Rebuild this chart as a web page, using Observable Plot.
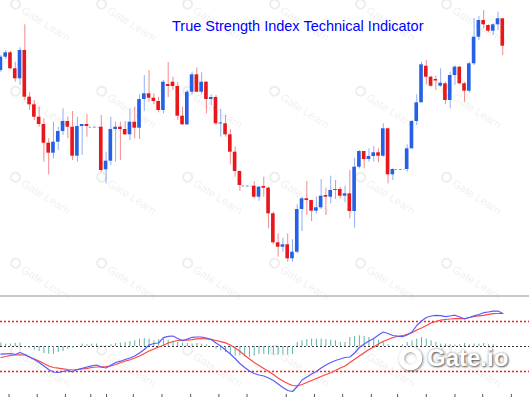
<!DOCTYPE html>
<html><head><meta charset="utf-8">
<script src="https://cdn.jsdelivr.net/npm/d3@7"></script>
<script src="https://cdn.jsdelivr.net/npm/@observablehq/plot@0.6"></script>
<style>
html,body{margin:0;padding:0;background:#fff;}
#wrap{position:relative;width:529px;height:397px;overflow:hidden;background:#fff;font-family:"Liberation Sans",Arial,sans-serif;}
#wm{position:absolute;left:0;top:0;width:529px;height:397px;}
.wm{position:absolute;white-space:nowrap;font-size:11px;color:rgba(110,110,110,0.12);transform:translate(-50%,-50%) rotate(32deg);}
.wm i{display:inline-block;width:7px;height:7px;border:2px solid rgba(110,110,110,0.12);border-radius:50%;margin-right:3px;vertical-align:-1px;}
#top{position:absolute;left:0;top:0;}
#sep{position:absolute;left:0;top:295px;width:529px;height:2px;background:#c8c8c8;}
#bot{position:absolute;left:0;top:297px;}
#title{position:absolute;left:172px;top:19px;font-size:14.5px;line-height:14.5px;color:#0000ff;white-space:nowrap;}
#logo{position:absolute;left:398px;top:344px;height:28px;white-space:nowrap;}
#logo .ring{position:absolute;left:1px;top:3px;width:13px;height:13px;border:5px solid #fff;border-radius:50%;box-shadow:1px 1px 3px rgba(0,0,0,0.55), inset 1px 1px 3px rgba(0,0,0,0.4);}
#logo .txt{position:absolute;left:29px;top:0px;font-weight:bold;font-size:24px;color:#fff;text-shadow:1px 1px 2px rgba(0,0,0,0.6),0 0 3px rgba(0,0,0,0.35);}
</style></head>
<body><div id="wrap"><div id="wm"></div><div id="top"></div><div id="sep"></div><div id="bot"></div>
<div id="title">True Strength Index Technical Indicator</div>
<div id="logo"><span class="ring"></span><span class="txt">Gate.io</span></div>
</div>
<script>
// Candles (price units, arbitrary scale; no axis in the original)
const open  = [230,243.3,247.7,231.7,221.7,250,203.3,195.7,183.3,176,157.3,147.3,158.3,169,179,173.3,144.3,174,176,173.3,173.3,173.3,130.7,139.3,171,173.3,171,165.7,178.3,172.3,201,206.7,202.3,199,190,216,218.3,214,184.3,175.7,208.3,225.7,208.3,218.3,201,203,176.5,176.7,165.7,148.3,129,114.5,114.5,114.3,103.3,114,112.3,86.7,57.7,53.3,55.7,41.7,48.3,91,101.7,100,89.3,92.7,105,103.3,110,111,104.3,106.7,89,133.3,149,141,144,147.7,144.3,171.7,125.7,131,131,131,151.7,179,197.7,234.3,223.3,221,214.3,216.7,200,225,233.3,216.7,209.3,236.7,263.3,280,275,269.3,275.7,281.7];
const high  = [245,250,249,238.3,252.7,275.7,207.7,200,193.3,181.7,161.7,178.3,173.3,191.7,183.3,189,183.3,176,186,173.3,173.3,185,148.3,183.3,178.3,178.3,179,191.7,193.3,205.7,225,230,206.7,203.3,220,238,223.3,217.7,193.3,210,228.3,232.7,227.7,219,205.7,205,191,185,171,153.3,129,114.5,114.5,119,114,123.3,113.3,88.3,66.7,62.3,66.7,60.7,95.7,103.3,119,100,103.3,121,112.3,124.3,120,113.3,114.3,130,142.3,150,149,151.7,154,151.7,176.7,172.3,131.7,131,131,155.7,180,205.7,238.3,240,224.3,224.3,231.7,218.3,228.3,235,234,218.3,238.3,282,284,290,275.7,276.7,288.3,281.7];
const low   = [228,241,231,218.3,215,200,190,180,173.3,138.3,125.7,141.7,150,165,161.7,140,138.3,145,163.3,173.3,173.3,128.3,116.7,135,138.3,140,165,160,161.7,161,189,198.3,195.7,187.7,186.7,203,210,180,175,175,205.7,207.7,205.7,186.7,195,175,163.3,163.3,135.7,123.3,109,114.5,114.5,101.7,99.3,103.3,71.7,55.7,43.3,48.3,38.3,38.3,46.7,69,85,79,86.7,91,85,96.7,101,101.7,97.7,81.7,72.3,131.7,131.7,138.3,138.3,137.7,143.3,116.7,120,131,131,128.3,151,175,197.7,215.7,213.3,210,213.3,195.7,191.7,215,215.7,198.3,207.7,235,260,271.7,267.7,265,270,245];
const close = [243.3,247.7,231.7,221.7,250,203.3,195.7,183.3,176,157.3,147.3,158.3,169,179,173.3,144.3,174,176,174,173.3,173.3,130,139.3,171,173.3,171,165.7,178.3,172.3,201,206.7,202.3,199,190,218.3,214,214,184.3,175.7,208.3,225.7,208.3,218.3,201,203,176.7,177.5,165.7,148.3,129,115,114.5,114.5,103.3,113.3,112.3,86.7,57.7,53.3,55.7,41.7,48.3,91,101.7,100,89.3,92.7,104.3,103.3,110,111,104.3,106.7,89,133.3,149,141,144,147.7,144.3,171.7,125.7,131,131,131,151.7,179,197.7,235.7,223.3,214.3,219.5,217.3,200,225,233.3,216.7,209.3,236.7,263.3,280,275.7,269.3,275.7,281.7,254.3];

// True Strength Index panel
const tsi    = [-7.6,-7.3,-7,-8,-6,-8,-10.5,-13,-16,-19.5,-23,-25.5,-26,-25,-24,-25.3,-23,-21.8,-20.5,-19.3,-18.5,-20.5,-21.5,-18.7,-16,-14.7,-13,-11.5,-9.5,-6.5,-3,1.5,3,3.5,8.8,10.2,10.5,8,5.7,7.5,9.2,9.5,9.5,8.5,7,3.5,0.5,-3.5,-7.5,-12,-17,-21,-24.5,-27,-28.5,-29.5,-31.5,-34,-37.5,-41,-44,-45,-40,-33.5,-30.5,-27.5,-25,-21.5,-18.5,-16,-14,-12.5,-11,-10.5,-6.5,-1,2.5,5.5,8,11.5,14.5,13,11,10.3,9.8,11.5,14.5,21,25.5,29,30.5,31.2,30.8,29.8,30.5,31.3,29.5,27.5,29,30.6,32,33.8,34.5,35.3,35.5,33];
const signal = [-11,-10,-8.8,-8.5,-8.4,-8.5,-10.5,-12.5,-14.5,-17,-19.5,-21,-21.7,-22.3,-23,-23.5,-23,-22.5,-21.8,-21,-20.5,-20.3,-20,-19.5,-18,-16.2,-14.5,-13.3,-11.5,-9.5,-7,-4.5,-2.5,-0.5,1.3,3.5,5,6,6.4,6.4,6.8,7.6,8,7.6,7.2,6,4.8,3.6,1.5,-1.5,-4.8,-8.8,-12.5,-16,-19,-22,-25,-28,-31.5,-34.5,-37,-39,-39.3,-38,-36,-34,-32,-30,-28,-26.2,-24,-21.5,-19.5,-16,-12.8,-9.5,-6.3,-3,-0.5,2.5,5.2,7,9,10,10.8,12.3,13.8,16.5,18.5,21,23.5,25,26.3,27,27.5,27.8,27.8,27.8,29,30,30.6,31.2,32.2,32.8,33,33];
const hist   = [3.4,2.4,2.4,3,3.4,-1,-1.7,-3.7,-5,-7,-7.8,-7.8,-6,-5,-2.7,-1.7,0,2.4,1.7,2.4,2.4,0,0.7,1.7,3,3.4,4,5,5.7,7.4,8,7.4,5.7,6.8,7.4,6.4,5,4,3.4,3,2.4,3,2.4,1.4,0,-2.7,-4.4,-6,-7.8,-9.5,-9.5,-10.5,-11,-9.5,-7.8,-8,-8.5,-8.5,-8.5,-8.5,-8.5,-8,4,5.7,6.8,7.4,7.4,7.4,6.8,6.4,5.7,4,4,9,10,10.7,10,9,8,6.4,4,1.7,0.7,0,1.7,4,5.7,7.4,9,7.4,5.7,4,2.4,2.4,1.7,1.4,1.7,3,1.7,2.4,2.4,3,1.7,1.7,0,0];
const levels = [25, -25];
const timeTicks = [1.7,7.6,13.5,18.8,22.1,27.7,33.7,39.7,45.6,51.5,59.7,65.6,71.5,77.5,83,89,95,100.8,106.8];

const BLUE = "#2461e6", RED = "#e8171c";
const candles = open.map((o, i) => ({i, o, h: high[i], l: low[i], c: close[i]}));
const flat = candles.filter(d => d.o === d.c);
const solid = candles.filter(d => d.o !== d.c);
const col = d => d.c > d.o ? BLUE : RED;
const xDom = [-0.084, 110.59];

const topChart = Plot.plot({
  width: 529, height: 295, margin: 0,
  style: {background: "transparent"},
  x: {domain: xDom, range: [0, 529], axis: null},
  y: {domain: [5, 300], range: [295, 0], axis: null},
  color: {type: "identity"},
  marks: [
    Plot.ruleX(solid, {x: "i", y1: "l", y2: "h", stroke: col, strokeOpacity: 0.5, strokeWidth: 1}),
    Plot.rect(solid, {x1: d => d.i - 0.38, x2: d => d.i + 0.38, y1: "o", y2: "c", fill: col}),
    Plot.ruleY(flat, {x1: d => d.i - 0.5, x2: d => d.i + 0.5, y: "o", stroke: BLUE, strokeOpacity: 0.75, strokeDasharray: "2,2"})
  ]
});
document.getElementById("top").appendChild(topChart);

const botChart = Plot.plot({
  width: 529, height: 100, margin: 0,
  style: {background: "transparent"},
  x: {domain: xDom, range: [0, 529], axis: null},
  y: {domain: [-51, 49], range: [100, 0], axis: null},
  marks: [
    Plot.ruleY(levels, {stroke: "#ff1a1a", strokeWidth: 1.4, strokeDasharray: "2,2"}),
    Plot.ruleY([0], {stroke: "#333", strokeDasharray: "2,2"}),
    Plot.ruleX(hist, {x: (d, i) => i, y1: 0, y2: d => d, stroke: "#5fb4ad", strokeWidth: 1}),
    Plot.line(signal, {x: (d, i) => i, y: d => d, stroke: "#ff4545", strokeWidth: 1.2}),
    Plot.line(tsi, {x: (d, i) => i, y: d => d, stroke: "#5a5aff", strokeWidth: 1.2}),
    Plot.tickX(timeTicks, {x: d => d, insetTop: 97, stroke: "#555"})
  ]
});
document.getElementById("bot").appendChild(botChart);

// faint "Gate Learn" watermarks
const wm = document.getElementById("wm");
[40, 126, 212, 299, 385, 471].forEach(cx => {
  [20, 107, 193, 279, 366].forEach(cy => {
    const s = document.createElement("div");
    s.className = "wm";
    s.style.left = cx + "px"; s.style.top = cy + "px";
    s.innerHTML = "<i></i>Gate Learn";
    wm.appendChild(s);
  });
});
</script></body></html>
